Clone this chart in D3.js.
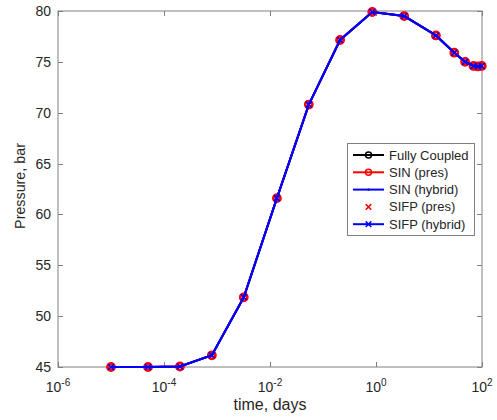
<!DOCTYPE html>
<html>
<head>
<meta charset="utf-8">
<script src="https://cdn.jsdelivr.net/npm/d3@7"></script>
<style>
  body { margin: 0; background: #fff; }
  text { font-family: "Liberation Sans", Arial, sans-serif; fill: #262626; }
</style>
</head>
<body>
<div id="container"></div>
<script>
// time in days (log axis)
var times = [1e-5, 5e-5, 2e-4, 8e-4, 3.2e-3, 0.0135, 0.054, 0.21, 0.85, 3.4, 13.5, 30, 48, 69, 84, 99];

// pressure in bar, one array per run (they coincide)
var fullyCoupled = [45, 45, 45.05, 46.15, 51.85, 61.6, 70.8, 77.15, 79.9, 79.5, 77.6, 75.9, 75.0, 74.6, 74.55, 74.6];
var sinPres      = [45, 45, 45.05, 46.15, 51.85, 61.6, 70.8, 77.15, 79.9, 79.5, 77.6, 75.9, 75.0, 74.6, 74.55, 74.6];
var sinHybrid    = [45, 45, 45.05, 46.15, 51.85, 61.6, 70.8, 77.15, 79.9, 79.5, 77.6, 75.9, 75.0, 74.6, 74.55, 74.6];
var sifpPres     = [45, 45, 45.05, 46.15, 51.85, 61.6, 70.8, 77.15, 79.9, 79.5, 77.6, 75.9, 75.0, 74.6, 74.55, 74.6];
var sifpHybrid   = [45, 45, 45.05, 46.15, 51.85, 61.6, 70.8, 77.15, 79.9, 79.5, 77.6, 75.9, 75.0, 74.6, 74.55, 74.6];

var xTicks = [1e-6, 1e-4, 1e-2, 1e0, 1e2];
var yTicks = [45, 50, 55, 60, 65, 70, 75, 80];

var seriesNames = ["Fully Coupled", "SIN (pres)", "SIN (hybrid)", "SIFP (pres)", "SIFP (hybrid)"];

var W = 497, H = 420;
var margin = { left: 58, right: 15, top: 11, bottom: 53 };
var width = W - margin.left - margin.right;
var height = H - margin.top - margin.bottom;

var svg = d3.select("#container").append("svg")
    .attr("width", W).attr("height", H);
var g = svg.append("g")
    .attr("transform", "translate(" + margin.left + "," + margin.top + ")");

var x = d3.scaleLog().domain([1e-6, 1e2]).range([0, width]);
var y = d3.scaleLinear().domain([45, 80]).range([height, 0]);

var axisColor = "#808080";
var tickLen = 5;

// box
g.append("rect")
    .attr("width", width).attr("height", height)
    .attr("fill", "none").attr("stroke", axisColor).attr("stroke-width", 1);

// ticks (inside, on both sides)
xTicks.forEach(function (t) {
    var px = Math.round(x(t)) + 0.5;
    g.append("line").attr("x1", px).attr("x2", px).attr("y1", height).attr("y2", height - tickLen).attr("stroke", axisColor);
    g.append("line").attr("x1", px).attr("x2", px).attr("y1", 0).attr("y2", tickLen).attr("stroke", axisColor);
    var exp = Math.round(Math.log10(t));
    var lbl = g.append("text")
        .attr("x", x(t)).attr("y", height + 25)
        .attr("text-anchor", "middle")
        .style("font-size", "14px");
    lbl.append("tspan").text("10");
    lbl.append("tspan").attr("dy", -6).style("font-size", "10px").text(exp);
});
yTicks.forEach(function (t) {
    var py = Math.round(y(t)) + 0.5;
    g.append("line").attr("x1", 0).attr("x2", tickLen).attr("y1", py).attr("y2", py).attr("stroke", axisColor);
    g.append("line").attr("x1", width).attr("x2", width - tickLen).attr("y1", py).attr("y2", py).attr("stroke", axisColor);
    g.append("text")
        .attr("x", -7).attr("y", y(t) + 5)
        .attr("text-anchor", "end")
        .style("font-size", "14px")
        .text(t);
});

// axis labels
g.append("text")
    .attr("x", width / 2).attr("y", height + 43)
    .attr("text-anchor", "middle")
    .style("font-size", "16px")
    .text("time, days");
g.append("text")
    .attr("transform", "translate(-33," + (height / 2 - 3) + ") rotate(-90)")
    .attr("text-anchor", "middle")
    .style("font-size", "14.3px")
    .text("Pressure, bar");

var line = d3.line()
    .x(function (d) { return x(d[0]); })
    .y(function (d) { return y(d[1]); });

function pairs(vals) {
    return times.map(function (t, i) { return [t, vals[i]]; });
}

function drawCircles(sel, data, color, r, sw) {
    sel.selectAll(null).data(data).enter().append("circle")
        .attr("cx", function (d) { return x(d[0]); })
        .attr("cy", function (d) { return y(d[1]); })
        .attr("r", r).attr("fill", "none")
        .attr("stroke", color).attr("stroke-width", sw);
}
function crossPath(cx, cy, s) {
    return "M" + (cx - s) + "," + (cy - s) + "L" + (cx + s) + "," + (cy + s) +
        "M" + (cx - s) + "," + (cy + s) + "L" + (cx + s) + "," + (cy - s);
}
function drawCrosses(sel, data, color, s, sw) {
    sel.selectAll(null).data(data).enter().append("path")
        .attr("d", function (d) { return crossPath(x(d[0]), y(d[1]), s); })
        .attr("fill", "none").attr("stroke", color).attr("stroke-width", sw);
}

var plot = g.append("g");

// Fully Coupled: black line + circles
plot.append("path").attr("d", line(pairs(fullyCoupled)))
    .attr("fill", "none").attr("stroke", "#000").attr("stroke-width", 2);
drawCircles(plot, pairs(fullyCoupled), "#000", 3.5, 1.5);

// SIN (pres): red line + circles
plot.append("path").attr("d", line(pairs(sinPres)))
    .attr("fill", "none").attr("stroke", "#ff0000").attr("stroke-width", 2);
drawCircles(plot, pairs(sinPres), "#ff0000", 3.6, 2.6);

// SIN (hybrid): blue line + dots
plot.append("path").attr("d", line(pairs(sinHybrid)))
    .attr("fill", "none").attr("stroke", "#0000ff").attr("stroke-width", 2);
plot.selectAll(null).data(pairs(sinHybrid)).enter().append("circle")
    .attr("cx", function (d) { return x(d[0]); })
    .attr("cy", function (d) { return y(d[1]); })
    .attr("r", 1.2).attr("fill", "#0000ff");

// SIFP (pres): red crosses only
drawCrosses(plot, pairs(sifpPres), "#ff0000", 3, 1.5);

// SIFP (hybrid): blue line + crosses
plot.append("path").attr("d", line(pairs(sifpHybrid)))
    .attr("fill", "none").attr("stroke", "#0000ff").attr("stroke-width", 2);
drawCrosses(plot, pairs(sifpHybrid), "#0000ff", 3, 1.5);

// legend
var lg = svg.append("g").attr("transform", "translate(347,143)");
lg.append("rect").attr("x", 0.5).attr("y", 0.5).attr("width", 127).attr("height", 92)
    .attr("fill", "#fff").attr("stroke", axisColor);

var styles = [
    { color: "#000", line: true, marker: "o" },
    { color: "#ff0000", line: true, marker: "o" },
    { color: "#0000ff", line: true, marker: "." },
    { color: "#ff0000", line: false, marker: "x" },
    { color: "#0000ff", line: true, marker: "x" }
];
seriesNames.forEach(function (name, i) {
    var yy = 12 + i * 17.3;
    var st = styles[i];
    var item = lg.append("g");
    if (st.line) {
        item.append("line").attr("x1", 6).attr("x2", 37).attr("y1", yy).attr("y2", yy)
            .attr("stroke", st.color).attr("stroke-width", 2);
    }
    if (st.marker === "o") {
        item.append("circle").attr("cx", 21.5).attr("cy", yy).attr("r", 3)
            .attr("fill", "none").attr("stroke", st.color).attr("stroke-width", 1.5);
    } else if (st.marker === "x") {
        item.append("path").attr("d", crossPath(21.5, yy, 2.8))
            .attr("stroke", st.color).attr("stroke-width", 1.5).attr("fill", "none");
    } else {
        item.append("circle").attr("cx", 21.5).attr("cy", yy).attr("r", 1.2).attr("fill", st.color);
    }
    item.append("text").attr("x", 42).attr("y", yy + 4.5)
        .style("font-size", "13px").text(name);
});
</script>
</body>
</html>
